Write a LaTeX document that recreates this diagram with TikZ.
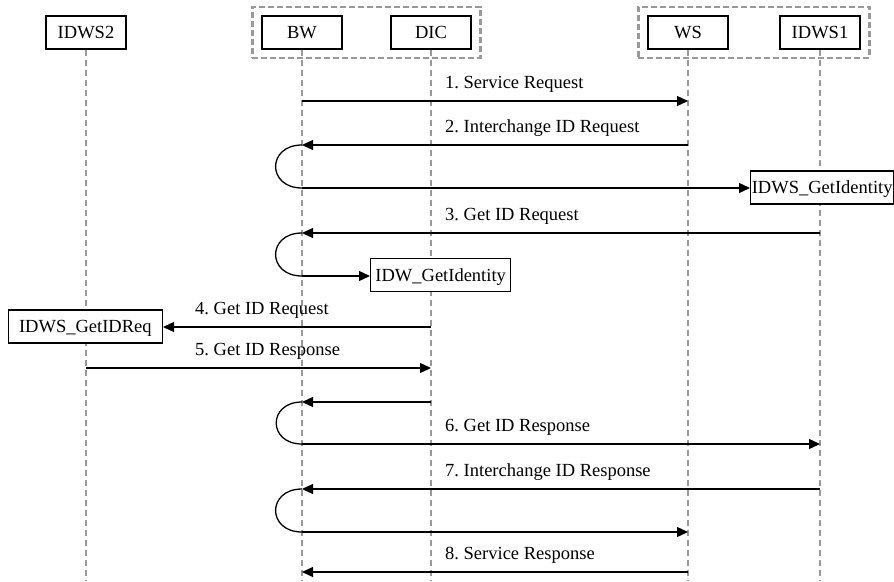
\documentclass[tikz,border=0pt]{standalone}
\usepackage{fontspec}
\setmainfont{Liberation Serif}
\usetikzlibrary{arrows.meta,positioning,fit}
\tikzset{actor/.style = {rectangle, draw, line width=1.3pt, minimum width=80pt, minimum height=33pt, inner sep=0pt, text height=12.2pt, text depth=0pt},
	procbox/.style = {rectangle, draw, fill=white, line width=1.3pt, minimum height=33pt, inner sep=1pt, text height=12.2pt, text depth=0pt},
	group/.style = {rectangle, draw=gray!80, dash pattern=on 6pt off 3pt, line width=2.5pt, inner xsep=9pt, inner ysep=8.5pt},
	life/.style = {draw=gray!80, line width=2pt, dash pattern=on 6pt off 4pt},
	msg/.style = {-{Triangle[length=11pt, width=10pt]}, line width=1.3pt},
	selfloop/.style = {line width=1.3pt, out=180, in=180, looseness=2.1},
	lbl/.style = {anchor=base west, inner sep=0pt}}

\begin{document}
\frenchspacing
\begin{tikzpicture}[x=1pt, y=-1pt, font=\fontsize{18.5}{21}\selectfont]
 \useasboundingbox (0,0) rectangle (894,581);

 \node (IDWS2) at (86,32.5) [actor] {IDWS2};
 \node (BW) at (302,32.5) [actor] {BW};
 \node (DIC) at (431,32.5) [actor] {DIC};
 \node (WS) at (688,32.5) [actor] {WS};
 \node (IDWS1) at (820,32.5) [actor] {IDWS1};

 \node (client) [group, fit=(BW)(DIC)] {};
 \node (server) [group, fit=(WS)(IDWS1)] {};

 \coordinate (IDWS2-bot) at (86,581);
 \coordinate (BW-bot) at (302,581);
 \coordinate (DIC-bot) at (431,581);
 \coordinate (WS-bot) at (688,581);
 \coordinate (IDWS1-bot) at (820,581);
 \draw[life] (IDWS2) -- (IDWS2-bot);
 \draw[life] (BW) -- (BW-bot);
 \draw[life] (DIC) -- (DIC-bot);
 \draw[life] (WS) -- (WS-bot);
 \draw[life] (IDWS1) -- (IDWS1-bot);

 % service request
 \coordinate (bw1) at (302,101);
 \coordinate (ws1) at (688,101);
 \draw[msg] (bw1) -- (ws1);
 \node (l1) at (445,88.5) [lbl] {1. Service Request};

 \coordinate (ws2) at (688,145);
 \coordinate (bw2) at (302,145);
 \coordinate (bw2o) at (302,188);
 \draw[msg] (ws2) -- (bw2);
 \node (l2) at (445,132.5) [lbl] {2. Interchange ID Request};
 \draw[selfloop] (bw2) to (bw2o);
 \node (idwsGet) at (750,187.5) [procbox, anchor=west, minimum width=143pt] {IDWS\_GetIdentity};
 \draw[msg] (bw2o) -- (idwsGet.west |- bw2o);

 \coordinate (idws1a) at (820,233);
 \coordinate (bw3) at (302,233);
 \coordinate (bw3o) at (302,276);
 \draw[msg] (idws1a) -- (bw3);
 \node (l3) at (445,220.5) [lbl] {3. Get ID Request};
 \draw[selfloop] (bw3) to (bw3o);
 \node (idwGet) at (370,275) [procbox, anchor=west, minimum width=140pt] {IDW\_GetIdentity};
 \draw[msg] (bw3o) -- (idwGet.west |- bw3o);

 % identity request to IDWS2
 \coordinate (dic4) at (431,327);
 \node (idwsReq) at (163,326.5) [procbox, anchor=east, minimum width=154pt] {IDWS\_GetIDReq};
 \draw[msg] (dic4) -- (idwsReq.east |- dic4);
 \node (l4) at (195,314.5) [lbl] {4. Get ID Request};

 \coordinate (idws2a) at (86,368);
 \coordinate (dic5) at (431,368);
 \draw[msg] (idws2a) -- (dic5);
 \node (l5) at (195,355.5) [lbl] {5. Get ID Response};

 \coordinate (dic6) at (431,402);
 \coordinate (bw6) at (302,402);
 \coordinate (bw6o) at (302,444);
 \coordinate (idws1b) at (820,444);
 \draw[msg] (dic6) -- (bw6);
 \draw[selfloop] (bw6) to (bw6o);
 \draw[msg] (bw6o) -- (idws1b);
 \node (l6) at (445,431.5) [lbl] {6. Get ID Response};

 % responses back
 \coordinate (idws1c) at (820,489);
 \coordinate (bw7) at (302,489);
 \coordinate (bw7o) at (302,532);
 \coordinate (ws7) at (688,532);
 \draw[msg] (idws1c) -- (bw7);
 \node (l7) at (445,476.5) [lbl] {7. Interchange ID Response};
 \draw[selfloop] (bw7) to (bw7o);
 \draw[msg] (bw7o) -- (ws7);

 \coordinate (ws8) at (688,572);
 \coordinate (bw8) at (302,572);
 \draw[msg] (ws8) -- (bw8);
 \node (l8) at (445,559.5) [lbl] {8. Service Response};

\end{tikzpicture}
\end{document}
